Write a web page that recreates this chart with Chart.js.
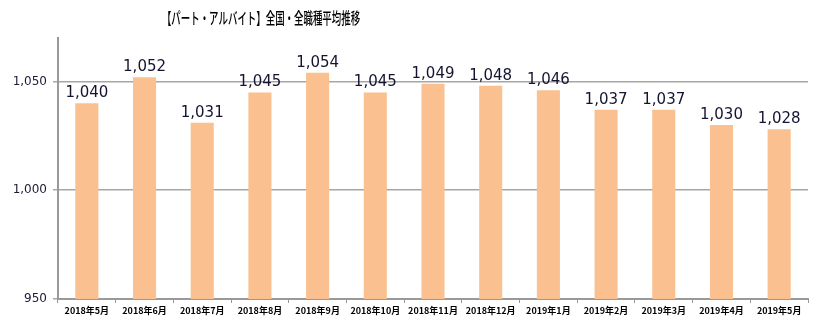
<!DOCTYPE html>
<html>
<head>
<meta charset="utf-8">
<script src="https://cdn.jsdelivr.net/npm/chart.js@4.4.0/dist/chart.umd.min.js"></script>
<style>
  html, body { margin: 0; padding: 0; background: #fff; }
  #wrap { width: 822px; height: 322px; }
</style>
</head>
<body>
<div id="wrap"><canvas id="chart1" width="822" height="322"></canvas></div>
<script>
let chartTitle = "【パート・アルバイト】全国・全職種平均推移";
let months = ["2018年5月", "2018年6月", "2018年7月", "2018年8月", "2018年9月", "2018年10月", "2018年11月",
    "2018年12月", "2019年1月", "2019年2月", "2019年3月", "2019年4月", "2019年5月"];
let wages = [1040, 1052, 1031, 1045, 1054, 1045, 1049, 1048, 1046, 1037, 1037, 1030, 1028];
let yTicks = [950, 1000, 1050];

// title is drawn by hand so it can be squeezed like the original font
const titlePlugin = {
    id: 'squeezedTitle',
    afterDraw(chart) {
        const ctx = chart.ctx;
        ctx.save();
        ctx.font = "500 16px 'Noto Sans CJK JP'";
        ctx.fillStyle = '#000';
        ctx.textAlign = 'center';
        ctx.textBaseline = 'middle';
        ctx.translate(261, 18);
        ctx.scale(0.59, 1);
        ctx.fillText(chartTitle, 0, 0);
        ctx.restore();
    }
};

// value labels above each bar
const valueLabels = {
    id: 'valueLabels',
    afterDatasetsDraw(chart) {
        const ctx = chart.ctx;
        const meta = chart.getDatasetMeta(0);
        ctx.save();
        ctx.font = "15px 'DejaVu Sans'";
        ctx.fillStyle = '#141430';
        ctx.textAlign = 'center';
        ctx.textBaseline = 'alphabetic';
        meta.data.forEach(function (bar, i) {
            ctx.fillText(wages[i].toLocaleString('en-US'), bar.x, bar.y - 6);
        });
        ctx.restore();
    }
};

const ctx = document.getElementById('chart1').getContext('2d');
const chart = new Chart(ctx, {
    type: 'bar',
    data: {
        labels: months,
        datasets: [{
            data: wages,
            backgroundColor: '#FAC090',
            borderWidth: 0,
            barPercentage: 0.4,
            categoryPercentage: 1.0
        }]
    },
    options: {
        responsive: false,
        animation: false,
        layout: { padding: { top: 38, right: 14, left: 0, bottom: 0 } },
        plugins: {
            legend: { display: false },
            title: { display: false },
            tooltip: { enabled: false }
        },
        scales: {
            x: {
                offset: true,
                grid: {
                    offset: true,
                    drawOnChartArea: false,
                    drawTicks: true,
                    tickLength: 4,
                    color: '#999'
                },
                border: { color: '#999', width: 2 },
                ticks: {
                    color: '#000',
                    font: { family: "'Noto Sans CJK JP'", size: 9, weight: 'bold' },
                    maxRotation: 0,
                    autoSkip: false,
                    padding: 2
                },
                afterFit: function (s) { s.height = 23; }
            },
            y: {
                min: 950,
                max: 1070,
                afterBuildTicks: function (s) {
                    s.ticks = yTicks.map(function (v) { return { value: v }; });
                },
                grid: {
                    color: '#a6a6a6',
                    lineWidth: 1.5,
                    tickLength: 5
                },
                border: { color: '#999', width: 2 },
                ticks: {
                    color: '#1b1b36',
                    font: { family: "'DejaVu Sans'", size: 12 },
                    padding: 6,
                    callback: function (v) { return v.toLocaleString('en-US'); }
                },
                afterFit: function (s) { s.width = 58; }
            }
        }
    },
    plugins: [titlePlugin, valueLabels]
});
</script>
</body>
</html>
